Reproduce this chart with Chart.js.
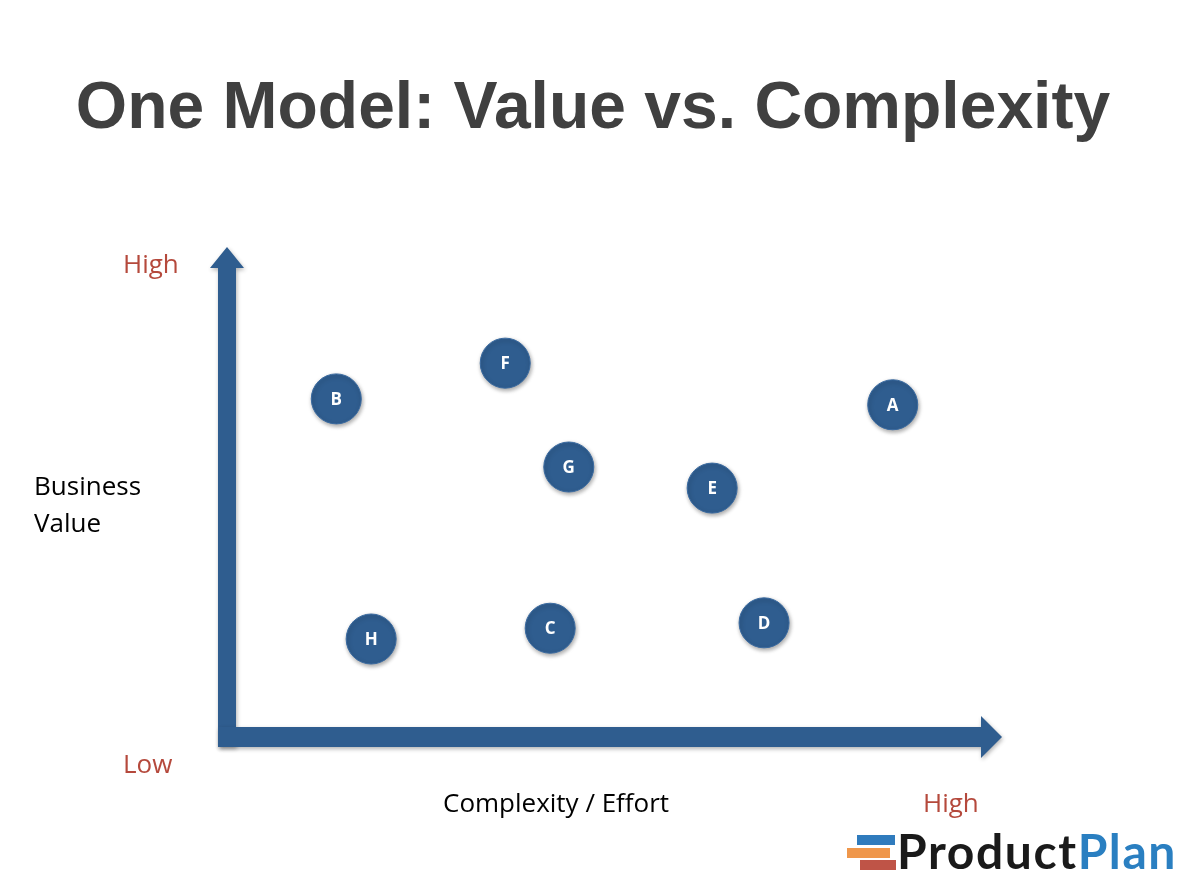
<!DOCTYPE html>
<html>
<head>
<meta charset="utf-8">
<script src="https://cdn.jsdelivr.net/npm/chart.js@4"></script>
<style>
  body { margin: 0; background: #fff; }
  #wrap { position: relative; width: 1186px; height: 878px; overflow: hidden; }
  #myChart { position: absolute; left: 0; top: 0; }
  .txt { position: absolute; white-space: nowrap; font-family: "Open Sans", sans-serif; font-size: 26px; line-height: 1; }
  .red { color: #b5493c; }
  #title { position: absolute; left: 0; width: 1186px; top: 67px; text-align: center;
    font-family: "Liberation Sans", Arial, sans-serif; font-weight: bold; font-size: 66px; color: #404040; }
  .bar { position: absolute; height: 10px; }
  #logo { position: absolute; left: 897px; top: 827px; font-family: Lato, sans-serif; font-weight: bold;
    font-size: 48px; letter-spacing: 1.6px; line-height: 1; color: #1a1a1a; }
</style>
</head>
<body>
<div id="wrap">
  <canvas id="myChart" width="1186" height="878"></canvas>
  <div id="title">One Model: Value vs. Complexity</div>
  <div class="txt red" style="left:123px;top:250px">High</div>
  <div class="txt" style="left:34px;top:467px;line-height:37px">Business<br>Value</div>
  <div class="txt red" style="left:123px;top:750px">Low</div>
  <div class="txt" style="left:443px;top:789px">Complexity / Effort</div>
  <div class="txt red" style="left:923px;top:789px">High</div>
  <div class="bar" style="left:857px;top:835px;width:38px;background:#2f7bbd"></div>
  <div class="bar" style="left:847px;top:848px;width:43px;background:#ef974b"></div>
  <div class="bar" style="left:860px;top:860px;width:36px;background:#bf5447"></div>
  <div id="logo">Product<span style="color:#2a7fc1">Plan</span></div>
</div>
<script>
var ideas = ['A', 'B', 'C', 'D', 'E', 'F', 'G', 'H'];
var complexity = [8.59, 1.41, 4.17, 6.93, 6.26, 3.59, 4.41, 1.86];
var value = [6.78, 6.90, 2.22, 2.33, 5.08, 7.63, 5.51, 2.00];

var points = [];
ideas.forEach((name, i) => {
  points.push({ x: complexity[i], y: value[i] });
});

var blue = '#2f5d8f';

// axis arrows drawn from the scales
const arrows = {
  id: 'arrows',
  beforeDatasetsDraw(chart) {
    const ctx = chart.ctx;
    const x0 = chart.scales.x.getPixelForValue(0);
    const y0 = chart.scales.y.getPixelForValue(0);
    const yTop = chart.scales.y.getPixelForValue(10);
    const xEnd = chart.scales.x.getPixelForValue(10);
    ctx.save();
    ctx.shadowColor = 'rgba(0,0,0,0.3)';
    ctx.shadowBlur = 4;
    ctx.shadowOffsetX = 1;
    ctx.shadowOffsetY = 2;
    ctx.fillStyle = blue;
    // vertical
    ctx.beginPath();
    ctx.moveTo(x0 - 9, y0 + 10);
    ctx.lineTo(x0 - 9, yTop + 21);
    ctx.lineTo(x0 - 17, yTop + 21);
    ctx.lineTo(x0, yTop);
    ctx.lineTo(x0 + 17, yTop + 21);
    ctx.lineTo(x0 + 9, yTop + 21);
    ctx.lineTo(x0 + 9, y0 + 10);
    ctx.closePath();
    ctx.fill();
    // horizontal
    ctx.beginPath();
    ctx.moveTo(x0 - 9, y0 - 10);
    ctx.lineTo(xEnd - 21, y0 - 10);
    ctx.lineTo(xEnd - 21, y0 - 21);
    ctx.lineTo(xEnd, y0);
    ctx.lineTo(xEnd - 21, y0 + 21);
    ctx.lineTo(xEnd - 21, y0 + 10);
    ctx.lineTo(x0 - 9, y0 + 10);
    ctx.closePath();
    ctx.fill();
    ctx.restore();

    ctx.save();
    ctx.shadowColor = 'rgba(0,0,0,0.35)';
    ctx.shadowBlur = 4;
    ctx.shadowOffsetX = 1;
    ctx.shadowOffsetY = 2;
  },
  afterDatasetsDraw(chart) {
    const ctx = chart.ctx;
    ctx.restore();
    const meta = chart.getDatasetMeta(0);
    ctx.save();
    ctx.fillStyle = '#fff';
    ctx.font = 'bold 17px "Open Sans", sans-serif';
    ctx.textAlign = 'center';
    ctx.textBaseline = 'middle';
    meta.data.forEach((pt, i) => {
      ctx.fillText(ideas[i], pt.x, pt.y + 1);
    });
    ctx.restore();
  }
};

const data = {
  datasets: [{
    label: 'Ideas',
    data: points,
    backgroundColor: blue,
    borderColor: '#3a6aa0',
    borderWidth: 1,
    pointRadius: 25,
    pointHoverRadius: 25
  }]
};

const config = {
  type: 'scatter',
  data: data,
  options: {
    responsive: false,
    animation: false,
    layout: { padding: { left: 227, right: 184, top: 247, bottom: 141 } },
    plugins: { legend: { display: false }, tooltip: { enabled: false } },
    scales: {
      x: { display: false, min: 0, max: 10 },
      y: { display: false, min: 0, max: 10 }
    }
  },
  plugins: [arrows]
};

const myChart = new Chart(document.getElementById('myChart'), config);
</script>
</body>
</html>
